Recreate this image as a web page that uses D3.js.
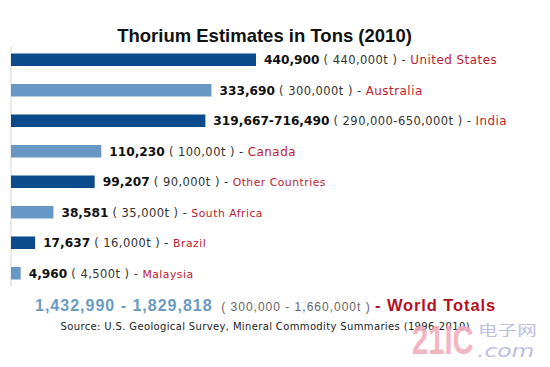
<!DOCTYPE html>
<html><head><meta charset="utf-8">
<script src="https://cdn.jsdelivr.net/npm/d3@7"></script>
<style>body{margin:0;background:#fff;overflow:hidden}</style>
</head><body>
<svg id="c" width="550" height="367"></svg>
<script>
const titleText = "Thorium Estimates in Tons (2010)";
const countries = ["United States","Australia","India","Canada","Other Countries","South Africa","Brazil","Malaysia"];
const shortTons = [440900, 333690, 319667, 110230, 99207, 38581, 17637, 4960];
const shortTonLabels = ["440,900","333,690","319,667-716,490","110,230","99,207","38,581","17,637","4,960"];
const metricLabels = ["440,000t","300,000t","290,000-650,000t","100,00t","90,000t","35,000t","16,000t","4,500t"];
const worldShortLabel = "1,432,990 - 1,829,818";
const worldMetricLabel = "( 300,000 - 1,660,000t )";
const worldName = "World Totals";
const sourceText = "Source: U.S. Geological Survey, Mineral Commodity Summaries (1996-2010)";

const svg = d3.select("#c");
const DARK = "#0b4b8c", LIGHT = "#6798c5", RED = "#c01a2e";

const x0 = 11;
const xs = d3.scalePow().exponent(0.72).domain([0, d3.max(shortTons)]).range([0, 245]);
const yb = d3.scaleBand().domain(countries).range([46.5, 286.5]).paddingInner(0.59).paddingOuter(0.23);

// title
svg.append("text").attr("x", 264.5).attr("y", 42).attr("text-anchor", "middle")
  .style("font-family", "'Liberation Sans', Arial, sans-serif").style("font-weight", "bold")
  .style("font-size", "18.5px").attr("fill", "#111").text(titleText);

// axis line
const ax = svg.append("g").attr("transform", `translate(${x0 - 0.5},0)`)
  .call(d3.axisLeft(yb).tickSize(0).tickSizeOuter(0).tickFormat(""));
ax.select(".domain").attr("stroke", "#d6d6d6");

// bars
svg.selectAll("rect.bar").data(countries).join("rect").attr("class", "bar")
  .attr("x", x0).attr("y", d => yb(d)).attr("height", yb.bandwidth())
  .attr("width", (d, i) => xs(shortTons[i]))
  .attr("fill", (d, i) => i % 2 === 0 ? DARK : LIGHT);

// labels
const lab = svg.selectAll("text.lab").data(countries).join("text").attr("class", "lab")
  .attr("x", (d, i) => x0 + xs(shortTons[i]) + 8)
  .attr("y", d => yb(d) + yb.bandwidth() / 2 + 4.6)
  .style("font-family", "'DejaVu Sans', Verdana, sans-serif");
lab.append("tspan").style("font-weight", "bold").style("font-size", "12.2px").attr("fill", "#111")
  .text((d, i) => shortTonLabels[i]);
lab.append("tspan").style("font-size", "11.5px").style("letter-spacing", "0.45px").attr("fill", "#333")
  .text((d, i) => "\u00a0( " + metricLabels[i] + " ) -\u00a0");
lab.append("tspan").style("font-size", (d, i) => i < 4 ? "11.9px" : "10.8px").style("letter-spacing", "0.5px")
  .attr("fill", RED).text(d => d);

// world totals
const wt = svg.append("text").attr("x", 35).attr("y", 311)
  .style("font-family", "'Liberation Sans', Arial, sans-serif");
wt.append("tspan").style("font-weight", "bold").style("font-size", "16px").style("letter-spacing", "1px")
  .attr("fill", "#6b9bc4").text(worldShortLabel);
wt.append("tspan").style("font-size", "12px").style("letter-spacing", "1px").attr("fill", "#666")
  .text("\u00a0\u00a0" + worldMetricLabel + " ");
wt.append("tspan").style("font-weight", "bold").style("font-size", "16.5px").style("letter-spacing", "0.9px")
  .attr("fill", "#b4111f").text("- " + worldName);

// source
svg.append("text").attr("x", 60.5).attr("y", 330)
  .style("font-family", "'DejaVu Sans', Verdana, sans-serif").style("font-size", "10px")
  .style("letter-spacing", "0.36px").attr("fill", "#222").text(sourceText);

// watermark
const wm = svg.append("g").attr("opacity", 0.85);
wm.append("text").attr("transform", "translate(412,354) scale(0.73,1)")
  .style("font-family", "'Liberation Sans', Arial, sans-serif").style("font-weight", "bold")
  .style("font-size", "40px").attr("fill", "#f0a9b8").text("21IC");
wm.append("text").attr("transform", "translate(478,334.5) scale(1.4,1)")
  .style("font-family", "'Noto Sans CJK SC', sans-serif").style("font-size", "14px")
  .attr("fill", "#b3b3df").text("电子网");
wm.append("text").attr("transform", "translate(477,356.5) scale(1.3,1)")
  .style("font-family", "'DejaVu Sans', sans-serif").style("font-style", "italic")
  .style("font-size", "18px").attr("fill", "#b3b3df").text(".com");
</script>
</body></html>
